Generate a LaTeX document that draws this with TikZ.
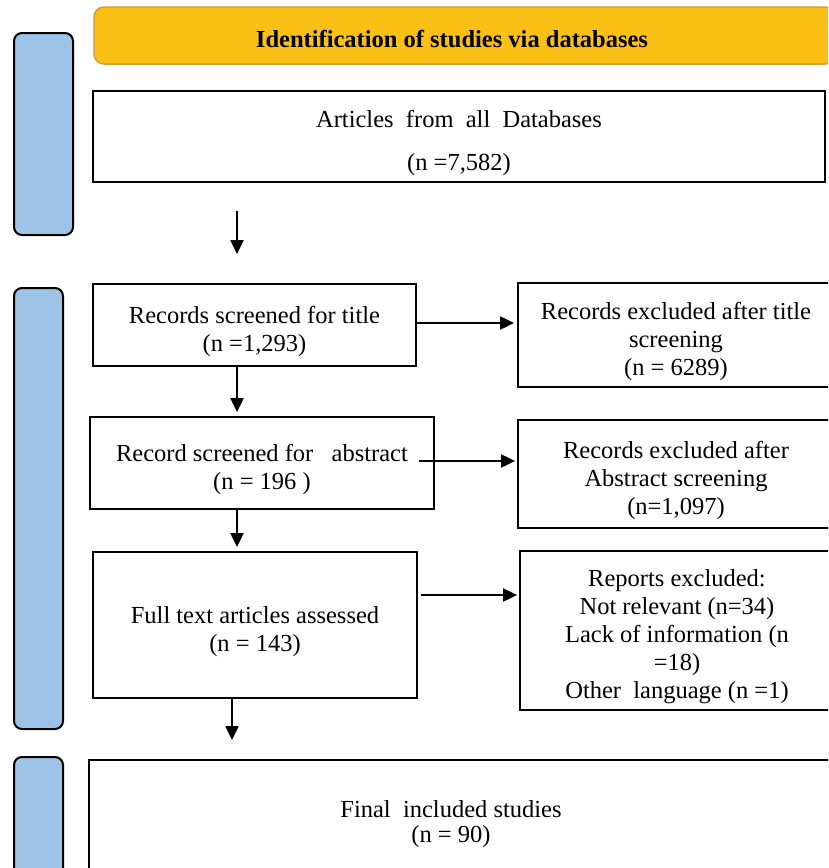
\documentclass[tikz,border=0pt]{standalone}
\usepackage{fontspec}
\setmainfont{Liberation Serif}
\usetikzlibrary{arrows.meta}
\definecolor{barblue}{HTML}{9DC3E6}
\definecolor{headgold}{HTML}{FBC016}
\definecolor{headline}{HTML}{D2A03A}
\tikzset{
  box/.style={draw, line width=1.8pt, align=flush center, inner sep=0pt, text height=30pt,
    font=\fontsize{24.5}{28}\selectfont},
  head/.style={draw=headline, fill=headgold, line width=1.5pt, rounded corners=10pt,
    inner sep=0pt, text height=24pt, font=\fontsize{24.5}{28}\selectfont\bfseries},
  bar/.style={draw, line width=2pt, fill=barblue, rounded corners=8pt, inner sep=0pt},
  arr/.style={-{Triangle[length=14pt,width=13pt]}, line width=2pt},
}
\begin{document}
\begin{tikzpicture}[x=1pt,y=-1pt]
      \path[use as bounding box, clip] (0,0) rectangle (828,868);
      \draw
        (43.5,134) node[bar, minimum width=59, minimum height=202] (bar1){}
        (38.5,508.5) node[bar, minimum width=49, minimum height=441] (bar2){}
        (38.5,828.5) node[bar, minimum width=49, minimum height=143] (bar3){};
      \node[head, minimum width=741, minimum height=57] (hd) at (464.5,35.5)
        {\hspace*{-25pt}Identification of studies via databases};
      \node[box, text width=700, minimum width=732, minimum height=91] (arts) at (459,136.5)
        {Articles\ \ from\ \ all\ \ Databases\\[15pt](n =7,582)};
      \node[box, text width=300, minimum width=323, minimum height=82] (scrt) at (254.5,325)
        {Records screened for title\\(n =1,293)};
      \node[box, text width=300, minimum width=316, minimum height=104] (ext) at (676,335)
        {Records excluded after title\\screening\\(n = 6289)};
      \node[box, text width=320, minimum width=344, minimum height=92] (abs) at (262,463)
        {Record screened for\ \ \ abstract\\(n = 196 )};
      \node[box, text width=300, minimum width=316, minimum height=108] (exa) at (676,474)
        {Records excluded after\\Abstract screening\\(n=1,097)};
      \node[box, text width=300, minimum width=324, minimum height=146] (full) at (255,625)
        {Full text articles assessed\\(n = 143)};
      \node[box, text width=300, minimum width=314, minimum height=159] (exr) at (677,630.5)
        {Reports excluded:\\Not relevant (n=34)\\Lack of information (n\\=18)\\Other\ \ language (n =1)};
      \node[box, text width=700, minimum width=746, minimum height=116] (fin) at (462,818)
        {\hspace*{-22pt}Final\ \ included studies\\[-3pt]\hspace*{-22pt}(n = 90)};
      \begin{scope}[arr]
        \draw[shorten <=28pt, shorten >=29pt] ([xshift=-17.5pt]scrt.north |- arts.south) -- ([xshift=-17.5pt]scrt.north);
        \draw[shorten >=4pt] ([xshift=-17.5pt]scrt.south) -- ([xshift=-17.5pt]scrt.south |- abs.north);
        \draw[shorten >=4pt] ([xshift=-25pt]abs.south) -- ([xshift=-25pt]abs.south |- full.north);
        \draw[shorten >=19pt] ([xshift=-23pt]full.south) -- ([xshift=-23pt]full.south |- fin.north);
        \draw[shorten >=3pt] ([yshift=2pt]scrt.east) -- ([yshift=2pt]scrt.east -| ext.west);
        \draw[shorten >=2pt] ([xshift=-16pt,yshift=2pt]abs.east) -- ([yshift=2pt]abs.east -| exa.west);
        \draw[shorten >=2pt] ([xshift=3pt,yshift=30pt]full.east) -- ([yshift=30pt]full.east -| exr.west);
      \end{scope}
    \end{tikzpicture}
\end{document}
